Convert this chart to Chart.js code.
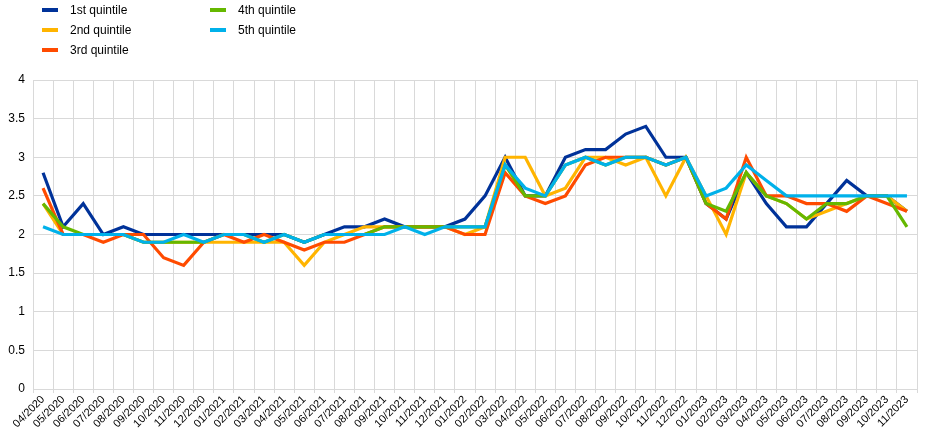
<!DOCTYPE html>
<html>
<head>
<meta charset="utf-8">
<script src="https://cdn.jsdelivr.net/npm/chart.js@4.4.1/dist/chart.umd.min.js"></script>
<style>
  html, body { margin: 0; padding: 0; background: #fff; }
  #wrap { position: relative; width: 945px; height: 445px; }
  #legend { position: absolute; left: 0; top: 0; width: 945px; height: 70px;
    font: 12px "Liberation Sans", Arial, sans-serif; color: #000; }
  .key { position: absolute; white-space: nowrap; line-height: 14px; }
  .swatch { position: absolute; left: -28px; top: 5px; width: 16px; height: 4px; }
</style>
</head>
<body>
<div id="wrap">
  <canvas id="c" width="945" height="445"></canvas>
  <div id="legend"></div>
</div>
<script>
// months Apr 2020 - Nov 2023
var MONTHS = ["04/2020","05/2020","06/2020","07/2020","08/2020","09/2020","10/2020","11/2020","12/2020",
  "01/2021","02/2021","03/2021","04/2021","05/2021","06/2021","07/2021","08/2021","09/2021","10/2021","11/2021","12/2021",
  "01/2022","02/2022","03/2022","04/2022","05/2022","06/2022","07/2022","08/2022","09/2022","10/2022","11/2022","12/2022",
  "01/2023","02/2023","03/2023","04/2023","05/2023","06/2023","07/2023","08/2023","09/2023","10/2023","11/2023"];

var Q1 = [2.8,2.1,2.4,2.0,2.1,2.0,2.0,2.0,2.0,2.0,2.0,2.0,2.0,1.9,2.0,2.1,2.1,2.2,2.1,2.1,2.1,2.2,2.5,3.0,2.5,2.5,3.0,3.1,3.1,3.3,3.4,3.0,3.0,2.4,2.2,2.8,2.4,2.1,2.1,2.4,2.7,2.5,2.5,2.3];
var Q2 = [2.4,2.0,2.0,2.0,2.0,1.9,1.9,1.9,1.9,1.9,1.9,1.9,1.9,1.6,1.9,2.0,2.1,2.1,2.1,2.1,2.1,2.0,2.1,3.0,3.0,2.5,2.6,3.0,3.0,2.9,3.0,2.5,3.0,2.5,2.0,2.8,2.5,2.4,2.2,2.3,2.4,2.5,2.5,2.3];
var Q3 = [2.6,2.0,2.0,1.9,2.0,2.0,1.7,1.6,1.9,2.0,1.9,2.0,1.9,1.8,1.9,1.9,2.0,2.1,2.1,2.1,2.1,2.0,2.0,2.8,2.5,2.4,2.5,2.9,3.0,3.0,3.0,2.9,3.0,2.4,2.2,3.0,2.5,2.5,2.4,2.4,2.3,2.5,2.4,2.3];
var Q4 = [2.4,2.1,2.0,2.0,2.0,1.9,1.9,1.9,1.9,2.0,2.0,1.9,2.0,1.9,2.0,2.0,2.0,2.1,2.1,2.1,2.1,2.1,2.1,2.9,2.5,2.5,2.9,3.0,2.9,3.0,3.0,2.9,3.0,2.4,2.3,2.8,2.5,2.4,2.2,2.4,2.4,2.5,2.5,2.1];
var Q5 = [2.1,2.0,2.0,2.0,2.0,1.9,1.9,2.0,1.9,2.0,2.0,1.9,2.0,1.9,2.0,2.0,2.0,2.0,2.1,2.0,2.1,2.1,2.1,2.9,2.6,2.5,2.9,3.0,2.9,3.0,3.0,2.9,3.0,2.5,2.6,2.9,2.7,2.5,2.5,2.5,2.5,2.5,2.5,2.5];

var NAMES = ["1st quintile","2nd quintile","3rd quintile","4th quintile","5th quintile"];
var COLORS = ["#003299","#FFB400","#FF4B00","#65B800","#00B1EA"];
var SERIES = [Q1, Q2, Q3, Q4, Q5];

var FONT = "'Liberation Sans', Arial, sans-serif";
var GRID = "#d9d9d9";

// legend: two columns, like the original
var legendPos = [[70,3],[70,23],[70,43],[238,3],[238,23]];
var box = document.getElementById("legend");
NAMES.forEach(function (n, i) {
  var key = document.createElement("div");
  key.className = "key";
  key.style.left = legendPos[i][0] + "px";
  key.style.top = legendPos[i][1] + "px";
  var sw = document.createElement("span");
  sw.className = "swatch";
  sw.style.background = COLORS[i];
  key.appendChild(sw);
  key.appendChild(document.createTextNode(n));
  box.appendChild(key);
});

new Chart(document.getElementById("c"), {
  type: "line",
  data: {
    labels: MONTHS,
    datasets: SERIES.map(function (s, i) {
      return {
        label: NAMES[i],
        data: s,
        borderColor: COLORS[i],
        backgroundColor: COLORS[i],
        borderWidth: 3.2,
        pointRadius: 0,
        tension: 0,
        order: 5 - i   // 5th quintile drawn on top
      };
    })
  },
  options: {
    responsive: false,
    animation: false,
    layout: { padding: { top: 80, right: 28, left: 0, bottom: 0 } },
    plugins: { legend: { display: false }, tooltip: { enabled: false } },
    scales: {
      x: {
        offset: true,
        grid: { offset: true, color: GRID, lineWidth: 1, tickLength: 4, drawTicks: true },
        border: { color: GRID },
        ticks: {
          autoSkip: false, maxRotation: 45, minRotation: 45,
          color: "#000", font: { family: FONT, size: 11 }, padding: 0
        },
        afterFit: function (s) { s.height = 56; }
      },
      y: {
        min: 0, max: 4,
        grid: { color: GRID, lineWidth: 1, drawTicks: false },
        border: { display: false },
        ticks: {
          stepSize: 0.5, color: "#000", font: { family: FONT, size: 12 }, padding: 8,
          callback: function (v) { return String(v); }
        },
        afterFit: function (s) { s.width = 33; }
      }
    }
  }
});
</script>
</body>
</html>
